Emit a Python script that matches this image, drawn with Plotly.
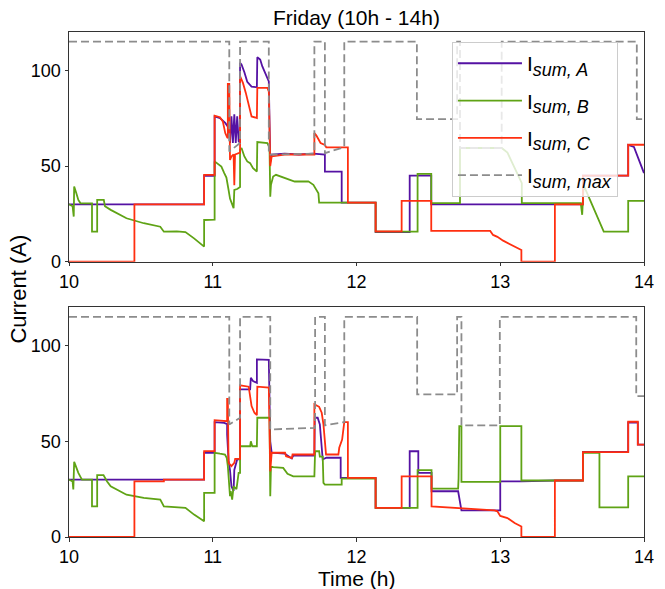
import plotly.graph_objects as go

# ---------------- data (time in h, current in A) ----------------
# Top panel
top_A_t = [10.0, 10.94, 10.94, 11.013, 11.013, 11.05, 11.087, 11.11, 11.12, 11.13, 11.14, 11.15, 11.16, 11.17, 11.18, 11.19,
           11.19, 11.2, 11.22, 11.24, 11.27, 11.307, 11.31, 11.33, 11.345, 11.36, 11.39, 11.40, 11.41, 11.5, 11.6, 11.7,
           11.78, 11.78, 11.897, 11.897, 12.133, 12.133, 12.37, 12.37, 12.52, 12.52, 13.575, 13.575, 13.89, 13.89, 13.93, 14.0]
top_A_v = [30, 30, 44.9, 44.9, 75.9, 75, 72.5, 70, 62, 76, 62, 77, 62, 76, 63, 62,
           103.9, 103, 99, 94, 91.5, 91.1, 106.8, 105.6, 102, 99.5, 94.2, 52, 56, 56.5, 56, 56.5,
           56, 47.1, 47.1, 30.9, 30.9, 15.5, 15.5, 45, 45, 30, 30, 45, 45, 61, 60, 46.3]

top_B_t = [10.0, 10.025, 10.033, 10.036, 10.05, 10.065, 10.08, 10.16, 10.16, 10.196, 10.196, 10.242, 10.25, 10.29, 10.40,
           10.52, 10.635, 10.66, 10.75, 10.81, 10.87, 10.94, 10.94, 11.013, 11.013, 11.04, 11.06, 11.08, 11.095, 11.11,
           11.12, 11.145, 11.15, 11.17, 11.19, 11.19, 11.2, 11.22, 11.24, 11.26, 11.28, 11.307, 11.31, 11.38, 11.395,
           11.40, 11.405, 11.42, 11.44, 11.57, 11.665, 11.70, 11.735, 11.74, 12.133, 12.133, 12.425, 12.425, 12.52, 12.52,
           12.72, 12.72, 13.01, 13.05, 13.15, 13.15, 13.56, 13.57, 13.58, 13.72, 13.89, 13.89, 14.0]
top_B_v = [30, 29, 23.6, 39.3, 36, 32.3, 30.5, 30.5, 15.7, 15.7, 32.3, 32.3, 29, 27.1, 22.7,
           20.1, 18.3, 15.7, 15.9, 15.5, 12.2, 7.9, 21.8, 22, 52.4, 51, 49.7, 46.3, 44, 37.5,
           33, 28, 37.5, 38, 39, 58.5, 59.4, 55, 52.4, 51.5, 48.9, 47.1, 62.5, 62, 59.4,
           34, 40.2, 44.5, 45.4, 41.9, 42, 40.2, 35.8, 30.9, 30.9, 15.7, 15.7, 45.9, 45.9, 30.6,
           30.6, 59.4, 59.4, 57, 41, 30.6, 30.6, 24.5, 40, 15.7, 15.7, 31.8, 31.8]

top_C_t = [10.0, 10.455, 10.455, 10.94, 10.94, 11.013, 11.013, 11.05, 11.07, 11.087, 11.1, 11.105, 11.105, 11.115,
           11.12, 11.13, 11.145, 11.15, 11.155, 11.19, 11.19, 11.21, 11.23, 11.25, 11.27, 11.307, 11.31, 11.38, 11.39,
           11.40, 11.41, 11.5, 11.6, 11.707, 11.707, 11.72, 11.75, 11.78, 11.79, 11.94, 11.94, 12.133, 12.133, 12.314,
           12.314, 12.52, 12.52, 12.93, 12.95, 12.98, 13.02, 13.06, 13.1, 13.147, 13.147, 13.38, 13.38, 13.575, 13.575,
           13.89, 13.89, 14.0]
top_C_v = [0, 0, 30, 30, 45.4, 45.4, 76.3, 75.5, 73.3, 67.2, 65, 64.6, 92.9, 92.9,
           53.2, 55, 56, 40, 56, 57, 96.9, 93.4, 88.2, 81.2, 75.9, 75.1, 90.8, 90.8, 89,
           50, 55, 56, 56, 56, 67.2, 66, 62, 61, 59.7, 59.7, 30.9, 30.9, 15.9, 15.9,
           31.8, 31.8, 16.1, 16.1, 14, 13, 11, 9.5, 8, 6.1, 0, 0, 30, 30, 45,
           45, 61.1, 61.1]

top_M_t = [10.0, 11.115, 11.115, 11.19, 11.19, 11.39, 11.39, 11.707, 11.707, 11.78, 11.78, 11.915, 11.915, 12.42,
           12.42, 12.70, 12.70, 12.72, 12.72, 13.01, 13.01, 13.95, 13.95, 14.0]
top_M_v = [115, 115, 57.6, 62, 115, 115, 55.9, 56.5, 115, 115, 56.7, 59.9, 115, 115,
           74.5, 74.5, 115, 115, 59.4, 59.4, 115, 115, 74.5, 74.5]

# Bottom panel
bot_A_t = [10.0, 10.94, 10.94, 11.013, 11.013, 11.08, 11.10, 11.10, 11.11, 11.12, 11.13, 11.145, 11.15, 11.17, 11.19,
           11.19, 11.26, 11.265, 11.28, 11.30, 11.307, 11.307, 11.39, 11.40, 11.41, 11.50, 11.55, 11.56, 11.707, 11.71,
           11.73, 11.745, 11.765, 11.79, 11.89, 11.89, 12.133, 12.133, 12.37, 12.37, 12.43, 12.43, 12.522, 12.522,
           12.707, 12.73, 13.0, 13.0, 13.147, 13.38, 13.575, 13.575, 13.89, 13.89, 13.957, 13.957, 14.0]
bot_A_v = [30, 30, 44, 44, 60, 59.6, 59, 53.6, 40, 35, 26.5, 24, 35, 40.5, 40.5,
           77.1, 77.1, 83.2, 81.5, 80.5, 80.5, 92.8, 92.5, 50, 44, 43.6, 41, 42.5, 42.5, 62.3,
           62.3, 58.8, 40.5, 41.4, 41.4, 30.9, 30.9, 15.2, 15.2, 44.8, 44.8, 33.5, 33.5, 23.9,
           23.9, 13.9, 13.9, 29.1, 29.1, 29.5, 29.5, 44.5, 44.5, 59.8, 59.8, 48.3, 48.3]

bot_B_t = [10.0, 10.025, 10.03, 10.036, 10.05, 10.065, 10.09, 10.16, 10.16, 10.196, 10.196, 10.24, 10.265, 10.29,
           10.40, 10.52, 10.635, 10.66, 10.81, 10.87, 10.94, 10.94, 11.013, 11.013, 11.05, 11.085, 11.097, 11.105,
           11.12, 11.125, 11.135, 11.145, 11.165, 11.18, 11.19, 11.19, 11.26, 11.265, 11.275, 11.307, 11.31, 11.395,
           11.40, 11.405, 11.42, 11.49, 11.52, 11.56, 11.707, 11.712, 11.74, 11.745, 11.765, 11.77, 11.78, 11.897,
           11.897, 12.133, 12.133, 12.425, 12.425, 12.522, 12.522, 12.707, 12.71, 12.715, 12.73, 12.73, 13.0, 13.0,
           13.147, 13.147, 13.575, 13.575, 13.69, 13.69, 13.89, 13.89, 14.0]
bot_B_v = [30, 29, 24.8, 39.3, 36.5, 33.5, 30, 30, 16, 16, 32.3, 32.3, 29, 26.5,
           22.1, 20.4, 19.5, 16, 15.2, 11.7, 8.2, 23, 23, 44, 43.5, 43.1, 41.4, 37,
           21.3, 24, 19.5, 26.5, 25, 33.5, 33.5, 47.4, 47.4, 50, 47.4, 47.4, 62.3, 62.3,
           21.3, 37, 36.5, 36.1, 33, 31.7, 31.7, 44.8, 44.8, 42, 42, 28.3, 27.4, 27.4,
           30.5, 30.5, 15.2, 15.2, 34.9, 34.9, 25.3, 25.3, 30.5, 57.9, 57.9, 28.8, 28.8, 57.9,
           57.9, 29.5, 29.5, 44, 44, 15.5, 15.5, 31.7, 31.7]

bot_C_t = [10.0, 10.455, 10.455, 10.66, 10.66, 10.94, 10.94, 11.013, 11.013, 11.09, 11.10, 11.10, 11.105, 11.11,
           11.13, 11.15, 11.156, 11.19, 11.19, 11.25, 11.26, 11.27, 11.29, 11.307, 11.31, 11.39, 11.40, 11.41, 11.503,
           11.51, 11.55, 11.555, 11.707, 11.707, 11.74, 11.758, 11.77, 11.788, 11.874, 11.88, 11.90, 11.915, 11.94,
           11.94, 12.133, 12.133, 12.314, 12.314, 12.522, 12.522, 12.96, 12.98, 13.0, 13.05, 13.10, 13.147, 13.147,
           13.38, 13.38, 13.575, 13.575, 13.89, 13.89, 13.957, 13.957, 14.0]
bot_C_v = [0, 0, 29.1, 29.1, 30, 30, 44.9, 44.9, 61, 60.5, 60.5, 72.2, 72.2, 38.7,
           37, 38.7, 40.8, 40.8, 79.2, 78.5, 73.6, 68.4, 64.9, 63.6, 78.5, 78, 34.3, 44, 44,
           42.2, 41.2, 43.1, 43.1, 69.3, 68, 64.9, 58.8, 43.1, 43.1, 46.6, 50.9, 60, 60,
           30.9, 30.9, 15.2, 15.2, 31.7, 31.7, 16, 13.9, 13.4, 11, 9.9, 7.3, 5.5, 0,
           0, 29.5, 29.5, 44.3, 44.3, 60.2, 60.2, 48.3, 48.3]

bot_M_t = [10.0, 11.115, 11.115, 11.19, 11.19, 11.40, 11.40, 11.712, 11.712, 11.78, 11.78, 11.915, 11.915, 12.422,
           12.422, 12.70, 12.70, 12.73, 12.73, 12.997, 12.997, 13.946, 13.946, 14.0]
bot_M_v = [115, 115, 58.8, 62.3, 115, 115, 56.2, 57, 115, 115, 58.3, 60, 115, 115,
           74.5, 74.5, 115, 115, 58.3, 58.3, 115, 115, 73.6, 73.6]

x_ticks = [10, 11, 12, 13, 14]
y_ticks = [0, 50, 100]
subs = ["sum, A", "sum, B", "sum, C", "sum, max"]
names = [f"I<sub><span style='font-size:18px'><i>{s}</i></span></sub>" for s in subs]
colors = ["#5512a3", "#5fa315", "#ff2f10", "#8c8c8c"]

FONT = "Liberation Sans, Arial, sans-serif"

# ---------------- figure ----------------
fig = go.Figure()
panels = [
    ("x", "y", [(top_A_t, top_A_v), (top_B_t, top_B_v), (top_C_t, top_C_v), (top_M_t, top_M_v)], True),
    ("x2", "y2", [(bot_A_t, bot_A_v), (bot_B_t, bot_B_v), (bot_C_t, bot_C_v), (bot_M_t, bot_M_v)], False),
]
for xa, ya, series, show in panels:
    for i, (t, v) in enumerate(series):
        fig.add_trace(go.Scatter(
            x=t, y=v, mode="lines", xaxis=xa, yaxis=ya,
            name=names[i], legendgroup=f"g{i}", showlegend=show,
            line=dict(color=colors[i], width=1.8, dash="8px,4px" if i == 3 else "solid"),
        ))

axis_common = dict(showgrid=False, zeroline=False, showline=True, mirror=True,
                   linecolor="#333", linewidth=1, ticks="outside", ticklen=3.5,
                   tickcolor="#333", tickfont=dict(size=18, color="black"))
H = 505.6
gap = 45.6 / H
fig.update_layout(
    width=665, height=589,
    margin=dict(l=68.5, r=20.5, t=31.7, b=51.7, pad=0),
    plot_bgcolor="white", paper_bgcolor="white",
    font=dict(family=FONT, size=21, color="black"),
    xaxis=dict(domain=[0, 1], range=[10, 14], anchor="y", tickvals=x_ticks, **axis_common),
    yaxis=dict(domain=[0.5 + gap / 2, 1], range=[0, 120], anchor="x", tickvals=y_ticks, **axis_common),
    xaxis2=dict(domain=[0, 1], range=[10, 14], anchor="y2", tickvals=x_ticks, **axis_common),
    yaxis2=dict(domain=[0, 0.5 - gap / 2], range=[0, 120], anchor="x2", tickvals=y_ticks, **axis_common),
    legend=dict(x=0.666, y=0.98, xanchor="left", yanchor="top",
                bgcolor="rgba(255,255,255,0.8)", bordercolor="#cccccc", borderwidth=1,
                font=dict(size=21), tracegroupgap=7, itemwidth=64),
    showlegend=True,
    annotations=[
        dict(text="Friday (10h - 14h)", xref="paper", yref="paper", x=0.5, y=1 + 14.7 / H,
             xanchor="center", yanchor="middle", showarrow=False, font=dict(size=21)),
        dict(text="Time (h)", xref="paper", yref="paper", x=0.5, y=-(578.5 - 537.3) / H,
             xanchor="center", yanchor="middle", showarrow=False, font=dict(size=21)),
        dict(text="Current (A)", xref="paper", yref="paper", x=-(68.5 - 18) / 576, y=(537.3 - 289) / H,
             xanchor="center", yanchor="middle", textangle=-90, showarrow=False, font=dict(size=22)),
    ],
)

fig.write_html("out.html", config={"displayModeBar": False},
               post_script="document.body.style.margin='0px';document.body.style.overflow='hidden';")
